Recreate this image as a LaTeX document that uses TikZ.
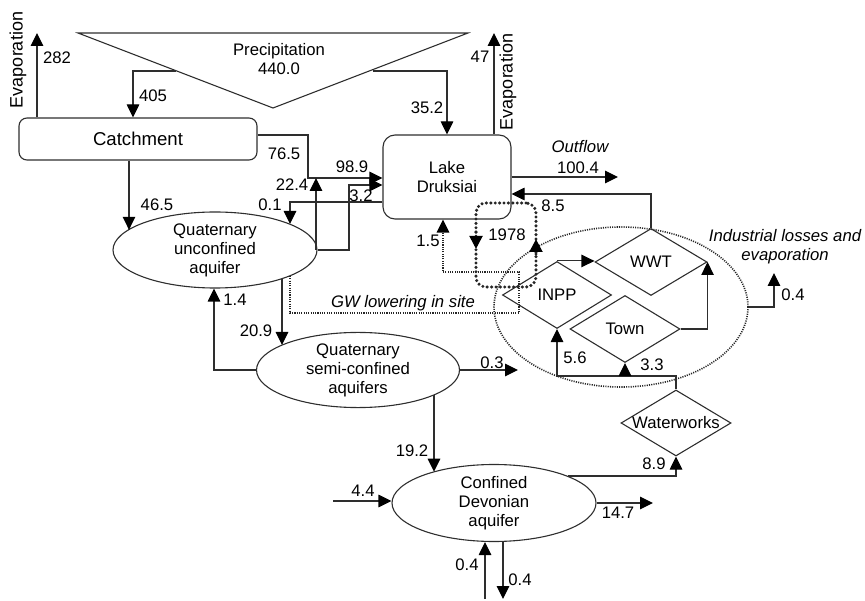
\documentclass[tikz,border=0pt]{standalone}
\usepackage{fontspec}
\setmainfont{Liberation Sans}
\usetikzlibrary{arrows.meta,shapes.geometric}
\definecolor{ln}{HTML}{2E2E2E}
\begin{document}
\begin{tikzpicture}[x=1pt,y=-1pt,
  every node/.style={font=\fontsize{16.7}{19}\selectfont, inner sep=0pt, align=center},
  tipx/.tip={Triangle[length=13pt,width=12.5pt,color=black]},
  flow/.style={draw=ln, line width=1.1pt, -tipx},
  plain/.style={draw=ln, line width=1.1pt},
  fine/.style={draw=black!85, line width=1.6pt, dash pattern=on 1.1pt off 1.2pt},
  thickdot/.style={draw=black!85, line width=3.4pt, line cap=round, dash pattern=on 0pt off 4.4pt},
  box/.style={draw=ln, line width=1.1pt, rectangle},
  ell/.style={draw=ln, line width=1.1pt, ellipse},
  dia/.style={draw=ln, line width=1.1pt, diamond, aspect=1.65, minimum width=110pt, minimum height=67pt},
  ital/.style={font=\fontsize{16.7}{19}\selectfont\itshape}
]
\useasboundingbox (0,0) rectangle (865,601);

% ---- main nodes
\coordinate (pa) at (78,33);
\coordinate (pb) at (468,33);
\coordinate (pc) at (273,108);
\draw[plain] (pa) -- (pb) -- (pc) -- cycle;
\node (prec) at (279,59) {Precipitation\\440.0};

\node[box, rounded corners=8pt, minimum width=238pt, minimum height=42pt,
      font=\fontsize{18.6}{21}\selectfont] (catch) at (138,139) {Catchment};
\node[box, rounded corners=12pt, minimum width=128pt, minimum height=84pt] (lake) at (447,177) {Lake\\Druksiai};
\node[ell, minimum width=204pt, minimum height=76pt] (qua) at (215,250) {Quaternary\\unconfined\\aquifer};
\node[ell, minimum width=203pt, minimum height=74pt] (semi) at (358,370) {Quaternary\\semi-confined\\aquifers};
\node[ell, minimum width=204pt, minimum height=77pt] (dev) at (494,503) {Confined\\Devonian\\aquifer};
\node[fine, ellipse, minimum width=254pt, minimum height=160pt] (ind) at (621,307) {};
\node[dia, minimum width=112pt, label=center:WWT] (wwt) at (651,262) {};
\node[dia, minimum width=109pt, label=center:INPP] (inpp) at (557,295) {};
\node[dia, label=center:Town] (town) at (625,329) {};
\node[dia, minimum height=66pt, label=center:Waterworks] (ww) at (676,423) {};

% ---- evaporation
\coordinate (evL) at (37,33);
\draw[flow] (catch.north -| evL) -- (evL);
\node[rotate=90, font=\fontsize{18}{21}\selectfont] (tevL) at (18,60) {Evaporation};
\node (l282) at (57,58) {282};

\coordinate (evR) at (494,33);
\draw[flow] (evR |- lake.north) -- (evR);
\node[rotate=90, font=\fontsize{18}{21}\selectfont] (tevR) at (508,82) {Evaporation};
\node (l47) at (480,57) {47};

% ---- precipitation
\coordinate (p405) at (176,71);
\coordinate (c405) at (133,71);
\draw[flow] (p405) -- (c405) -- (c405 |- catch.north);
\node (l405) at (153,96) {405};

\coordinate (p352) at (373,71);
\coordinate (c352) at (447,71);
\draw[flow] (p352) -- (c352) -- (c352 |- lake.north);
\node (l352) at (427,108) {35.2};

% ---- catchment to lake
\coordinate (c765) at (308,135);
\coordinate (j989) at (308,178);
\draw[flow] (catch.east |- c765) -- (c765) -- (j989) -- (j989 -| lake.west);
\node (l765) at (284,154) {76.5};
\node (l989) at (352,167) {98.9};

\coordinate (c224) at (316,178);
\draw[flow] (qua.east -| c224) -- (c224);
\node (l224) at (292,185) {22.4};

\coordinate (c32a) at (349,250);
\coordinate (c32b) at (349,185);
\draw[flow] (qua.east) -- (c32a) -- (c32b) -- (c32b -| lake.west);
\node (l32) at (361,196) {3.2};

\coordinate (c01) at (290,202);
\draw[flow] (lake.west |- c01) -- (c01) -- (qua.19 -| c01);
\node (l01) at (270,205) {0.1};

\coordinate (c465) at (129,0);
\draw[flow] (catch.south -| c465) -- (qua.167 -| c465);
\node (l465) at (157,205) {46.5};

% ---- aquifers
\coordinate (c14) at (214,370);
\draw[flow] (semi.west) -- (c14) -- (c14 |- qua.south);
\node (l14) at (235,300) {1.4};

\coordinate (c209) at (282,0);
\draw[flow] (qua.-23 -| c209) -- (semi.162 -| c209);
\node (l209) at (256,331) {20.9};

\coordinate (c03) at (518,370);
\draw[flow] (semi.east) -- (c03);
\node (l03) at (492,363) {0.3};

\coordinate (c192) at (434,0);
\draw[flow] (semi.-18 -| c192) -- (dev.153 -| c192);
\node (l192) at (412,451) {19.2};

\coordinate (c44) at (333,501);
\draw[flow] (c44) -- (c44 -| dev.west);
\node (l44) at (363,491) {4.4};

\coordinate (c147) at (653,503);
\draw[flow] (dev.east) -- (c147);
\node (l147) at (618,513) {14.7};

\coordinate (c04a) at (485,599);
\draw[flow] (c04a) -- (c04a |- dev.south);
\node (l04a) at (467,565) {0.4};
\coordinate (c04b) at (503,599);
\draw[flow] (c04b |- dev.south) -- (c04b);
\node (l04b) at (520,580) {0.4};

% ---- GW lowering
\coordinate (g1) at (290,313);
\coordinate (g2) at (519,313);
\coordinate (g3) at (519,272);
\coordinate (g4) at (443,272);
\draw[fine, -tipx] (qua.-19 -| g1) -- (g1) -- (g2) -- (g3) -- (g4) -- (g4 |- lake.south);
\node[ital] (lgw) at (403,303) {GW lowering in site};
\node (l15) at (428,241) {1.5};

% ---- 1978
\node[thickdot, rectangle, rounded corners=10pt, minimum width=60pt, minimum height=84pt] (yr) at (506,245) {};
\coordinate (y1) at (476,232);
\coordinate (y2) at (476,249);
\coordinate (y3) at (536,254);
\coordinate (y4) at (536,239);
\draw[thickdot, -tipx] (y1) -- (y2);
\draw[thickdot, -tipx] (y3) -- (y4);
\node (l1978) at (507,235) {1978};

% ---- lake outputs
\coordinate (c85) at (651,194);
\draw[flow] (wwt.north) -- (c85) -- (c85 -| lake.east);
\node (l85) at (553,206) {8.5};

\coordinate (cout) at (618,177);
\draw[flow] (lake.east |- cout) -- (cout);
\node[ital] (tout) at (580,147) {Outflow};
\node (l1004) at (578,168) {100.4};

% ---- industrial
\draw[flow] (inpp.north) -- (inpp.north -| wwt.west);
\draw[flow] (town.east) -| (wwt.east);

\coordinate (cw) at (676,376);
\draw[flow] (ww.north) -- (ww.north |- cw) -- (inpp.south |- cw) -- (inpp.south);
\draw[flow] (town.south |- cw) -- (town.south);
\node (l56) at (575,358) {5.6};
\node (l33) at (652,365) {3.3};

\draw[flow] (dev.20) -| (ww.south);
\node (l89) at (654,464) {8.9};

\coordinate (cind) at (774,273);
\draw[flow] (ind.east) -| (cind);
\node[ital] (tind) at (785,247) {Industrial losses and\\evaporation};
\node (l04c) at (793,295) {0.4};

\end{tikzpicture}
\end{document}
